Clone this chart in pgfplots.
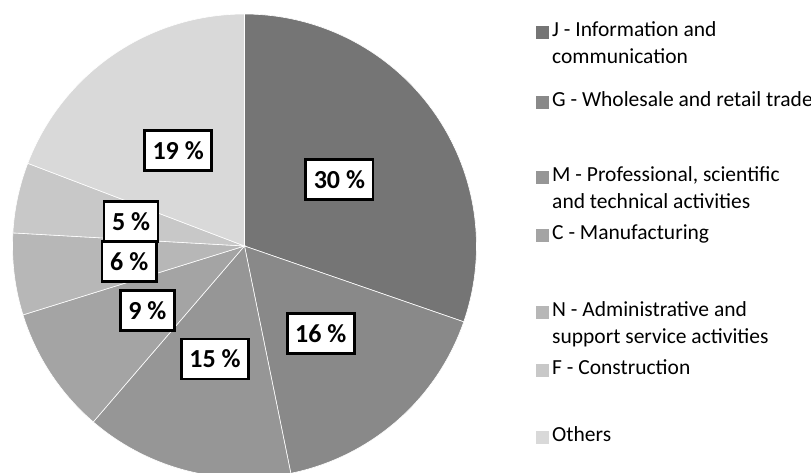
\documentclass[border=0pt]{standalone}
\usepackage{pgfplots}
\pgfplotsset{compat=1.18}
\usepackage{fontspec}
\setmainfont{Carlito}
\definecolor{cJ}{HTML}{757575}
\definecolor{cG}{HTML}{898989}
\definecolor{cM}{HTML}{969696}
\definecolor{cC}{HTML}{A4A4A4}
\definecolor{cN}{HTML}{B7B7B7}
\definecolor{cF}{HTML}{C8C8C8}
\definecolor{cO}{HTML}{D9D9D9}
% sector from cumulative percent #1 to #2
\newcommand{\sector}[3]{%
  \addplot[draw=white, line width=0.6bp, fill=#3, domain=#1*3.6:#2*3.6, samples=80, variable=\t]
    ({sin(t)},{cos(t)}) -- (axis cs:0,0) -- cycle;}
\newcommand{\lab}[3]{%
  \node[draw=black, line width=2.6bp, fill=white, inner xsep=8bp, inner ysep=0pt,
        minimum height=40bp, font=\bfseries\fontsize{26bp}{30bp}\selectfont]
        at (axis cs:#1,#2) {#3};}
\newcommand{\legsq}[2]{%
  \fill[#2] (536bp,{(473-#1-3-6.5)*1bp}) rectangle (549bp,{(473-#1-3+6.5)*1bp});}
\newcommand{\legtx}[2]{%
  \node[anchor=base west, inner sep=0pt, font=\fontsize{21.5bp}{26bp}\selectfont]
     at (552bp,{(473-#1-6.9)*1bp}) {#2};}
\begin{document}
\begin{tikzpicture}
\useasboundingbox (0bp,0bp) rectangle (811bp,473bp);
\begin{axis}[
  at={(244.5bp,227bp)}, anchor=center,
  scale only axis, width=464bp, height=464bp,
  xmin=-1, xmax=1, ymin=-1, ymax=1,
  hide axis, clip=false]
% values (percent): J 30.3, G 16.5, M 14.5, C 8.9, N 5.7, F 4.9, Others 19.2
\sector{0}{30.3}{cJ}
\sector{30.3}{46.8}{cG}
\sector{46.8}{61.3}{cM}
\sector{61.3}{70.2}{cC}
\sector{70.2}{75.9}{cN}
\sector{75.9}{80.8}{cF}
\sector{80.8}{100}{cO}
\lab{0.409}{0.287}{30 \%}
\lab{0.329}{-0.377}{16 \%}
\lab{-0.127}{-0.487}{15 \%}
\lab{-0.419}{-0.278}{9 \%}
\lab{-0.497}{-0.068}{6 \%}
\lab{-0.489}{0.106}{5 \%}
\lab{-0.286}{0.412}{19 \%}
\end{axis}
\legsq{30}{cJ}\legtx{30}{J - Information and}\legtx{56.5}{communication}
\legsq{100}{cG}\legtx{100}{G - Wholesale and retail trade}
\legsq{175}{cM}\legtx{175}{M - Professional, scientific}\legtx{201.5}{and technical activities}
\legsq{233}{cC}\legtx{233}{C - Manufacturing}
\legsq{310}{cN}\legtx{310}{N - Administrative and}\legtx{336.5}{support service activities}
\legsq{368}{cF}\legtx{368}{F - Construction}
\legsq{435}{cO}\legtx{435}{Others}
\end{tikzpicture}
\end{document}
